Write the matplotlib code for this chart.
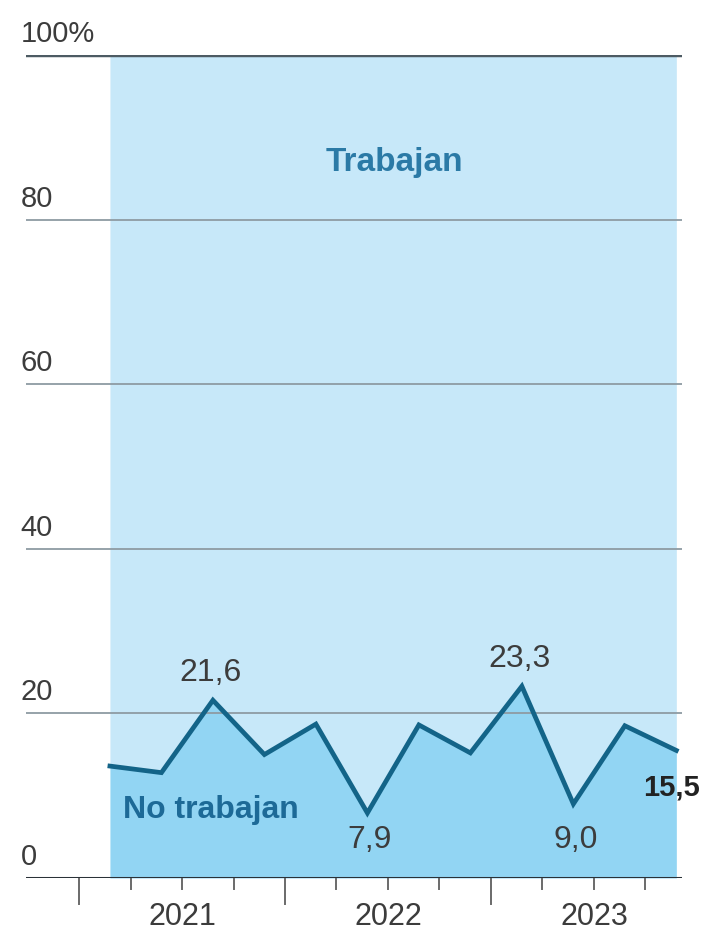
import matplotlib.pyplot as plt
import numpy as np

plt.rcParams['font.family'] = ['Liberation Sans', 'DejaVu Sans']

# Quarterly share of "No trabajan" (%), 2021 Q1 - 2023 Q4
values = [13.6, 12.8, 21.6, 15.0, 18.7, 7.9, 18.6, 15.2, 23.3, 9.0, 18.5, 15.5]
years = ['2021', '2022', '2023']
yticks = [0, 20, 40, 60, 80, 100]
ytick_labels = ['0', '20', '40', '60', '80', '100%']

# labelled points
labels = {2: '21,6', 5: '7,9', 8: '23,3', 9: '9,0'}

x = np.arange(len(values)) + 0.6
y = np.array(values)

fig = plt.figure(figsize=(7.08, 9.37), dpi=100)
ax = fig.add_axes([26 / 708, 58 / 937, 656 / 708, 823 / 937])
ax.set_xlim(-1.03, 11.71)
ax.set_ylim(0, 100)
ax.axis('off')

light = '#c7e8f9'
mid = '#92d5f3'
line_c = '#136488'

ax.fill_between(x, y, 100, color=light, lw=0, zorder=1)
ax.fill_between(x, 0, y, color=mid, lw=0, zorder=1)

# gridlines
for t in yticks[1:-1]:
    ax.plot([-1.03, 11.71], [t, t], color='#8e9ba3', lw=1.3, zorder=2)
ax.plot([-1.03, 11.71], [100, 100], color='#4d5b63', lw=3.2, zorder=2,
        solid_capstyle='round')
ax.plot([-1.03, 11.71], [0, 0], color='#2a3238', lw=2.2, zorder=4)

for t, lab in zip(yticks, ytick_labels):
    ax.text(-1.13, t + 1.7, lab, fontsize=21, color='#3c3c3c',
            ha='left', va='baseline', clip_on=False)

# x ticks: year boundaries long, quarters short
for k in range(12):
    length = 3.2 if k % 4 == 0 else 1.3
    ax.plot([k, k], [0, -length], color='#6a6a6a', lw=1.4, zorder=3,
            clip_on=False)
for i, yr in enumerate(years):
    ax.text(2 + 4 * i, -5.6, yr, fontsize=22, color='#3c3c3c',
            ha='center', va='baseline', clip_on=False)

ax.plot(x, y, color=line_c, lw=3.4, zorder=5, solid_joinstyle='miter')

for i, txt in labels.items():
    if y[i] > 15:
        ax.text(x[i] - 0.05, y[i] + 2.5, txt, fontsize=23, color='#3c3c3c',
                ha='center', va='baseline', zorder=6)
    else:
        ax.text(x[i] + 0.05, 3.8, txt, fontsize=23, color='#3c3c3c',
                ha='center', va='baseline', zorder=6)

ax.text(x[-1] - 0.1, y[-1] - 5.3, '15,5', fontsize=21, fontweight='bold',
        color='#222222', ha='center', va='baseline', zorder=6, clip_on=False)

ax.text(6.12, 86.0, 'Trabajan', fontsize=24, fontweight='bold',
        color='#2b7aa6', ha='center', va='baseline', zorder=6)
ax.text(0.85, 7.4, 'No trabajan', fontsize=23, fontweight='bold',
        color='#1d6a97', ha='left', va='baseline', zorder=6)

fig.savefig('out.png', dpi=100, facecolor='white')
